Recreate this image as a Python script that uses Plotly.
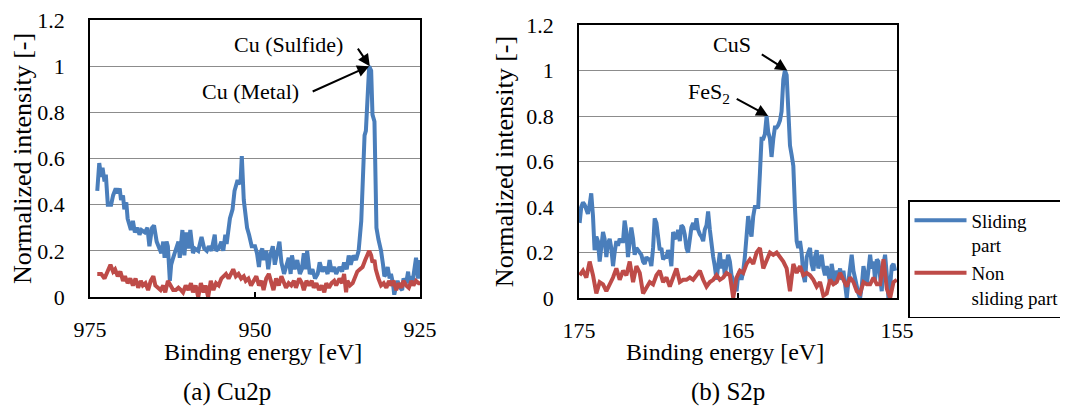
import plotly.graph_objects as go

# ---------------- data ----------------
# (a) Cu2p
cu_sliding_x = [973.9, 973.6, 973.3, 973.1, 972.8, 972.6, 972.3, 971.8, 971.5, 971.1,
                970.8, 970.5, 970.3, 970.0, 969.8, 969.5, 969.3, 969.0, 968.8, 968.5,
                968.2, 967.8, 967.5, 967.2, 966.7, 966.3, 966.0, 965.6, 965.3, 964.9,
                964.6, 964.2, 963.9, 963.7, 963.4, 963.2, 962.9, 962.7, 962.4, 961.9,
                961.6, 961.4, 961.0, 960.7, 960.4, 960.1, 959.8, 959.4, 959.1, 958.6,
                958.1, 957.7, 957.3, 957.0, 956.6, 956.1, 955.9, 955.5, 955.1, 954.8,
                954.5, 954.3, 954.0, 953.8, 953.4, 953.1, 952.7, 952.5, 952.2, 952.0,
                951.7, 951.5, 951.2, 950.9, 950.5, 950.0, 949.7, 949.4, 949.2, 948.9,
                948.7, 948.3, 948.0, 947.7, 947.3, 947.0, 946.6, 946.3, 946.0, 945.6,
                945.3, 944.9, 944.6, 944.4, 944.0, 943.6, 943.2, 942.9, 942.6, 942.3,
                942.1, 941.7, 941.3, 940.9, 940.5, 940.2, 939.8, 939.4, 939.0, 938.7,
                938.4, 938.0, 937.7, 937.2, 936.8, 936.5, 936.1, 935.8, 935.5, 935.1,
                934.7, 934.3, 933.9, 933.7, 933.4, 933.2, 932.9, 932.7, 932.4, 932.2,
                931.9, 931.8, 931.6, 931.3, 930.9, 930.6, 930.4, 930.1, 929.9, 929.6,
                929.4, 929.1, 928.9, 928.6, 928.4, 928.0, 927.7, 927.5, 927.1, 926.8,
                926.6, 926.3, 926.1, 925.8, 925.6, 925.3, 925.0]
cu_sliding_y = [0.46, 0.58, 0.52, 0.56, 0.50, 0.53, 0.40, 0.40, 0.44, 0.47,
                0.45, 0.47, 0.42, 0.44, 0.38, 0.41, 0.34, 0.30, 0.29, 0.33,
                0.28, 0.30, 0.27, 0.29, 0.28, 0.30, 0.22, 0.30, 0.31, 0.24,
                0.22, 0.19, 0.24, 0.17, 0.24, 0.22, 0.07, 0.14, 0.17, 0.22,
                0.24, 0.17, 0.29, 0.18, 0.28, 0.21, 0.29, 0.19, 0.21, 0.20,
                0.26, 0.21, 0.20, 0.22, 0.20, 0.27, 0.20, 0.21, 0.24, 0.20,
                0.27, 0.23, 0.30, 0.34, 0.38, 0.46, 0.50, 0.50, 0.49, 0.61,
                0.42, 0.37, 0.30, 0.27, 0.22, 0.22, 0.19, 0.13, 0.19, 0.21,
                0.16, 0.20, 0.12, 0.18, 0.22, 0.14, 0.19, 0.24, 0.15, 0.10,
                0.13, 0.17, 0.10, 0.18, 0.12, 0.16, 0.10, 0.12, 0.19, 0.12,
                0.20, 0.10, 0.12, 0.08, 0.10, 0.15, 0.11, 0.13, 0.10, 0.16,
                0.11, 0.13, 0.10, 0.13, 0.11, 0.15, 0.12, 0.18, 0.14, 0.18,
                0.16, 0.20, 0.33, 0.50, 0.70, 0.72, 0.92, 1.00, 0.98, 0.79,
                0.76, 0.50, 0.30, 0.25, 0.20, 0.14, 0.09, 0.10, 0.13, 0.08,
                0.10, 0.06, 0.01, 0.05, 0.07, 0.04, 0.03, 0.08, 0.06, 0.11,
                0.06, 0.09, 0.07, 0.13, 0.17, 0.08, 0.16]

cu_non_x = [973.9, 973.3, 972.8, 972.3, 971.9, 971.5, 971.2, 970.8, 970.4, 970.0,
            969.7, 969.3, 968.9, 968.5, 968.1, 967.7, 967.3, 967.0, 966.6, 966.2,
            965.8, 965.4, 965.1, 964.7, 964.3, 963.9, 963.6, 963.2, 962.8, 962.4,
            962.0, 961.6, 961.2, 960.9, 960.5, 960.1, 959.7, 959.4, 959.0, 958.6,
            958.2, 957.8, 957.5, 957.1, 956.7, 956.3, 955.9, 955.5, 955.1, 954.8,
            954.4, 954.0, 953.6, 953.3, 952.9, 952.5, 952.1, 951.7, 951.4, 951.0,
            950.6, 950.2, 949.8, 949.4, 949.0, 948.7, 948.3, 947.9, 947.5, 947.2,
            946.8, 946.4, 946.0, 945.6, 945.3, 944.9, 944.5, 944.1, 943.8, 943.3,
            942.9, 942.6, 942.2, 941.8, 941.4, 941.1, 940.7, 940.3, 939.9, 939.5,
            939.2, 938.8, 938.4, 938.0, 937.7, 937.2, 936.8, 936.5, 936.2, 936.0,
            935.6, 935.2, 934.8, 934.5, 934.1, 933.7, 933.3, 932.9, 932.7, 932.4,
            932.2, 931.9, 931.7, 931.3, 930.9, 930.5, 930.1, 929.7, 929.4, 929.0,
            928.6, 928.2, 927.8, 927.5, 927.1, 926.7, 926.3, 926.0, 925.6, 925.2,
            925.0]
cu_non_y = [0.10, 0.10, 0.08, 0.12, 0.14, 0.11, 0.12, 0.09, 0.11, 0.07,
            0.09, 0.06, 0.08, 0.05, 0.08, 0.04, 0.07, 0.05, 0.06, 0.03,
            0.07, 0.09, 0.05, 0.04, 0.03, 0.05, 0.02, 0.07, 0.05, 0.03,
            0.03, 0.04, 0.03, 0.02, 0.05, 0.03, 0.06, 0.02, 0.05, 0.00,
            0.06, 0.02, 0.05, 0.00, 0.07, 0.03, 0.06, 0.05, 0.08, 0.09,
            0.10, 0.08, 0.10, 0.12, 0.09, 0.10, 0.08, 0.09, 0.07, 0.08,
            0.05, 0.07, 0.09, 0.05, 0.07, 0.03, 0.08, 0.10, 0.06, 0.03,
            0.08, 0.05, 0.09, 0.06, 0.04, 0.06, 0.05, 0.07, 0.04, 0.08,
            0.06, 0.03, 0.07, 0.05, 0.07, 0.04, 0.06, 0.03, 0.05, 0.02,
            0.06, 0.04, 0.06, 0.07, 0.05, 0.08, 0.06, 0.10, 0.02, 0.07,
            0.05, 0.06, 0.09, 0.11, 0.12, 0.13, 0.16, 0.19, 0.20, 0.18,
            0.15, 0.16, 0.12, 0.08, 0.05, 0.06, 0.04, 0.07, 0.05, 0.07,
            0.03, 0.06, 0.04, 0.07, 0.05, 0.04, 0.07, 0.05, 0.07, 0.06,
            0.06]

# (b) S2p
s_sliding_x = [174.96, 174.86, 174.75, 174.65, 174.54, 174.44, 174.33, 174.23, 174.12, 174.02,
               173.91, 173.81, 173.70, 173.60, 173.49, 173.39, 173.28, 173.18, 173.07, 172.97,
               172.86, 172.76, 172.65, 172.55, 172.44, 172.34, 172.23, 172.13, 172.02, 171.92,
               171.81, 171.71, 171.60, 171.50, 171.39, 171.29, 171.18, 171.08, 170.97, 170.87,
               170.76, 170.66, 170.55, 170.45, 170.34, 170.24, 170.13, 170.03, 169.92, 169.82,
               169.71, 169.61, 169.50, 169.40, 169.29, 169.19, 169.08, 168.98, 168.87, 168.77,
               168.66, 168.56, 168.45, 168.35, 168.24, 168.14, 168.03, 167.93, 167.82, 167.72,
               167.61, 167.51, 167.40, 167.30, 167.19, 167.09, 166.98, 166.88, 166.77, 166.67,
               166.56, 166.46, 166.35, 166.25, 166.14, 166.04, 165.93, 165.83, 165.72, 165.62,
               165.51, 165.41, 165.30, 165.20, 165.09, 164.99, 164.88, 164.78, 164.67, 164.57,
               164.46, 164.36, 164.25, 164.15, 164.04, 163.94, 163.83, 163.73, 163.62, 163.52,
               163.41, 163.31, 163.20, 163.10, 162.99, 162.89, 162.78, 162.68, 162.57, 162.47,
               162.36, 162.26, 162.15, 162.05, 161.94, 161.84, 161.73, 161.63, 161.52, 161.42,
               161.31, 161.21, 161.10, 161.00, 160.89, 160.79, 160.68, 160.58, 160.47, 160.37,
               160.26, 160.16, 160.05, 159.95, 159.84, 159.74, 159.63, 159.53, 159.42, 159.32,
               159.21, 159.11, 159.00, 158.90, 158.79, 158.69, 158.58, 158.48, 158.37, 158.27,
               158.16, 158.06, 157.95, 157.85, 157.74, 157.64, 157.53, 157.43, 157.32, 157.22,
               157.11, 157.01, 156.90, 156.80, 156.69, 156.59, 156.48, 156.38, 156.27, 156.17,
               156.06, 155.96, 155.85, 155.75, 155.64, 155.54, 155.43, 155.33, 155.22, 155.12]
s_sliding_y = [0.33, 0.40, 0.42, 0.41, 0.39, 0.37, 0.41, 0.46, 0.36, 0.21,
               0.27, 0.25, 0.16, 0.22, 0.29, 0.26, 0.18, 0.24, 0.26, 0.22,
               0.14, 0.20, 0.25, 0.23, 0.26, 0.25, 0.25, 0.34, 0.29, 0.18,
               0.24, 0.31, 0.26, 0.19, 0.22, 0.21, 0.20, 0.19, 0.16, 0.15,
               0.18, 0.17, 0.17, 0.14, 0.22, 0.35, 0.33, 0.25, 0.21, 0.22,
               0.17, 0.18, 0.18, 0.21, 0.19, 0.14, 0.29, 0.27, 0.26, 0.30,
               0.25, 0.32, 0.31, 0.28, 0.22, 0.20, 0.25, 0.31, 0.33, 0.30,
               0.35, 0.30, 0.28, 0.27, 0.25, 0.30, 0.32, 0.38, 0.30, 0.22,
               0.18, 0.14, 0.08, 0.14, 0.20, 0.13, 0.17, 0.10, 0.14, 0.19,
               0.16, 0.10, 0.08, 0.05, 0.03, 0.10, 0.12, 0.08, 0.12, 0.18,
               0.28, 0.36, 0.30, 0.27, 0.36, 0.40, 0.40, 0.40, 0.55, 0.70,
               0.70, 0.72, 0.80, 0.73, 0.70, 0.62, 0.70, 0.75, 0.75, 0.76,
               0.78, 0.82, 0.96, 1.00, 0.98, 0.85, 0.67, 0.63, 0.58, 0.40,
               0.25, 0.22, 0.25, 0.20, 0.10, 0.07, 0.18, 0.20, 0.22, 0.15,
               0.12, 0.18, 0.21, 0.13, 0.17, 0.19, 0.13, 0.10, 0.14, 0.11,
               0.07, 0.15, 0.09, 0.06, 0.12, 0.10, 0.13, 0.08, 0.12, 0.06,
               0.00, 0.07, 0.12, 0.19, 0.12, 0.08, 0.05, 0.02, 0.00, 0.05,
               0.14, 0.10, 0.06, 0.12, 0.19, 0.13, 0.16, 0.08, 0.17, 0.16,
               0.10, 0.03, 0.15, 0.19, 0.10, 0.00, 0.05, 0.14, 0.15, 0.12]

s_non_x = [174.96, 174.75, 174.54, 174.33, 174.12, 173.91, 173.70, 173.49, 173.28, 173.07,
           172.86, 172.65, 172.44, 172.23, 172.02, 171.81, 171.60, 171.39, 171.18, 170.97,
           170.76, 170.55, 170.34, 170.13, 169.92, 169.71, 169.50, 169.29, 169.08, 168.87,
           168.66, 168.45, 168.24, 168.03, 167.82, 167.61, 167.40, 167.19, 166.98, 166.77,
           166.56, 166.35, 166.14, 165.93, 165.72, 165.51, 165.30, 165.09, 164.88, 164.67,
           164.46, 164.25, 164.04, 163.83, 163.62, 163.41, 163.20, 162.99, 162.78, 162.57,
           162.36, 162.15, 161.94, 161.73, 161.52, 161.31, 161.10, 160.89, 160.68, 160.47,
           160.26, 160.05, 159.84, 159.63, 159.42, 159.21, 159.00, 158.79, 158.58, 158.37,
           158.16, 157.95, 157.74, 157.53, 157.32, 157.11, 156.90, 156.69, 156.48, 156.27,
           156.06, 155.85, 155.64, 155.43, 155.22, 155.01]
s_non_y = [0.10, 0.12, 0.09, 0.16, 0.10, 0.02, 0.07, 0.06, 0.03, 0.06,
           0.09, 0.13, 0.08, 0.12, 0.10, 0.16, 0.07, 0.14, 0.11, 0.02,
           0.05, 0.07, 0.06, 0.10, 0.12, 0.07, 0.09, 0.05, 0.09, 0.13,
           0.07, 0.08, 0.08, 0.09, 0.08, 0.10, 0.12, 0.08, 0.05, 0.07,
           0.08, 0.10, 0.08, 0.09, 0.11, 0.10, 0.00, 0.09, 0.12, 0.11,
           0.15, 0.17, 0.15, 0.20, 0.22, 0.13, 0.16, 0.20, 0.19, 0.20,
           0.18, 0.16, 0.13, 0.03, 0.15, 0.11, 0.14, 0.10, 0.11, 0.10,
           0.08, 0.05, 0.07, 0.01, 0.02, 0.08, 0.06, 0.07, 0.11, 0.08,
           0.05, 0.09, 0.07, 0.03, 0.02, 0.07, 0.06, 0.06, 0.09, 0.06,
           0.06, 0.17, 0.04, 0.00, 0.07, 0.08]

series_names = ["Sliding<br>part", "Non<br>sliding part"]
cu_ticks = [975, 950, 925]
s_ticks = [175, 165, 155]
y_ticks = [0, 0.2, 0.4, 0.6, 0.8, 1, 1.2]
y_tick_text = ["0", "0.2", "0.4", "0.6", "0.8", "1", "1.2"]
x_title = "Binding energy [eV]"
y_title = "Normalized intensity [-]"

# ---------------- styling ----------------
FONT = '"Liberation Serif", "Times New Roman", Times, serif'
BLUE = "#4A7EBB"
RED = "#BE4B48"
PAGE_W, PAGE_H = 1068, 410
OFF = 8                      # default page margin around the plot div
W, H = PAGE_W - OFF, PAGE_H - OFF


def px(p):                   # page x-pixel -> paper fraction
    return (p - OFF) / W


def py(p):                   # page y-pixel -> paper fraction
    return 1 - (p - OFF) / H


fig = go.Figure()
fig.add_trace(go.Scatter(x=cu_sliding_x, y=cu_sliding_y, mode="lines", name=series_names[0],
                         line=dict(color=BLUE, width=4), xaxis="x", yaxis="y"))
fig.add_trace(go.Scatter(x=cu_non_x, y=cu_non_y, mode="lines", name=series_names[1],
                         line=dict(color=RED, width=4), xaxis="x", yaxis="y"))
fig.add_trace(go.Scatter(x=s_sliding_x, y=s_sliding_y, mode="lines", name=series_names[0],
                         line=dict(color=BLUE, width=4), showlegend=False,
                         xaxis="x2", yaxis="y2"))
fig.add_trace(go.Scatter(x=s_non_x, y=s_non_y, mode="lines", name=series_names[1],
                         line=dict(color=RED, width=4), showlegend=False,
                         xaxis="x2", yaxis="y2"))

tickfont = dict(family=FONT, size=22, color="black")
ytitlefont = dict(family=FONT, size=26, color="black")


def xaxis(dom, rng, ticks, anchor):
    return dict(domain=dom, range=rng, tickvals=ticks, ticktext=[str(t) for t in ticks],
                ticks="inside", ticklen=5, tickwidth=1.5, tickcolor="black",
                showline=True, linecolor="black", linewidth=1.5, mirror=True,
                showgrid=False, zeroline=False, tickfont=tickfont,
                ticklabelstandoff=12, ticklabeloverflow="allow",
                automargin=False, anchor=anchor)


def yaxis(dom, anchor):
    return dict(domain=dom, range=[0, 1.2], tickvals=y_ticks, ticktext=y_tick_text,
                ticks="", showline=True, linecolor="black", linewidth=1.5, mirror=True,
                showgrid=True, gridcolor="#8C8C8C", gridwidth=1.2, zeroline=False,
                tickfont=tickfont, ticklabelstandoff=19, ticklabeloverflow="allow",
                automargin=False, anchor=anchor,
                title=dict(text=y_title, font=ytitlefont, standoff=5))


fig.update_layout(
    width=W, height=H, autosize=False,
    margin=dict(l=0, r=0, t=0, b=0),
    paper_bgcolor="white", plot_bgcolor="white",
    font=dict(family=FONT, color="black"),
    xaxis=xaxis([px(90), px(420)], [975, 925], cu_ticks, "y"),
    yaxis=yaxis([py(297), py(20)], "x"),
    xaxis2=xaxis([px(579), px(897)], [175, 155], s_ticks, "y2"),
    yaxis2=yaxis([py(298), py(25)], "x2"),
    legend=dict(x=px(908), y=py(200), xanchor="left", yanchor="top",
                bordercolor="black", borderwidth=1.5, bgcolor="white",
                font=dict(family=FONT, size=19, color="black"),
                valign="top", tracegroupgap=0, itemwidth=52),
    showlegend=True,
)


def label(x, y, text, size=22):
    return dict(x=px(x), y=py(y), xref="paper", yref="paper", text=text,
                xanchor="center", yanchor="middle", showarrow=False,
                font=dict(family=FONT, size=size, color="black"))


def arrow(x, y, xref, yref, ax, ay):
    return dict(x=x, y=y, xref=xref, yref=yref, text="", showarrow=True, arrowhead=2,
                arrowsize=1.2, arrowwidth=2, arrowcolor="black", ax=ax, ay=ay)


annotations = [
    # Cu2p labels
    arrow(932.6, 1.0, "x", "y", -13, -19),
    arrow(932.7, 1.0, "x", "y", -58, 26),
    label(288, 44, "Cu (Sulfide)"),
    label(250, 92, "Cu (Metal)"),
    # S2p labels
    arrow(161.9, 1.0, "x2", "y2", -27, -17),
    arrow(163.1, 0.80, "x2", "y2", -33, -18),
    label(732, 44, "CuS"),
    label(709, 93, "FeS<sub>2</sub>"),
    # x-axis titles
    label(263, 352, x_title, 24),
    label(725, 352, x_title, 24),
    # captions
    label(227, 392, "(a) Cu2p", 25),
    label(728, 392, "(b) S2p", 25),
]
fig.update_layout(annotations=annotations)

fig.write_html("out.html")
